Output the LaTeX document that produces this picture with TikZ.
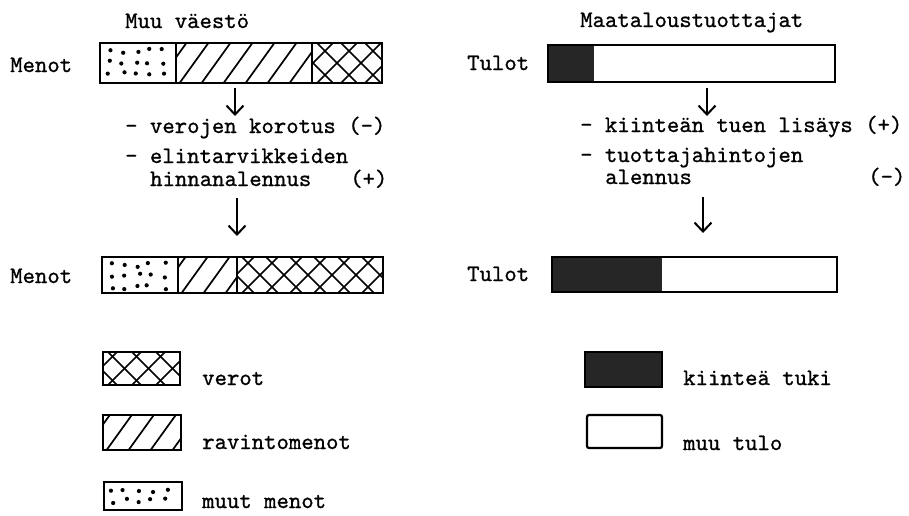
\documentclass[tikz,border=0pt]{standalone}
\usepackage{fontspec}
\newfontfamily\typew{lmmono10-regular.otf}[FakeBold=0.9]
\usetikzlibrary{arrows.meta,positioning}

\tikzset{
  box/.style={line width=2.2pt},
  hatch/.style={line width=1.7pt},
  lbl/.style={font=\typew\fontsize{23.6}{28}\selectfont, anchor=base west, inner sep=0pt},
  down/.style={line width=2pt, -{Straight Barb[length=9pt,width=17pt,line width=2pt]}}
}

% diagonal lines in a rectangle
\newcommand{\hatchbox}[4]{%
  \begin{scope}
    \clip (#1,#2) rectangle (#3,#4);
    \pgfmathtruncatemacro\nk{(#3-#1)/22+2}
    \foreach \k in {-2,...,\nk}
      \draw[hatch] ({#1+\k*22},{#4+5}) -- ++(36,-50);
  \end{scope}}

% cross hatching in a rectangle
\newcommand{\crossbox}[4]{%
  \begin{scope}
    \clip (#1,#2) rectangle (#3,#4);
    \pgfmathtruncatemacro\nk{(#3-#1)/24+2}
    \foreach \k in {-2,...,\nk} {
      \draw[hatch] ({#1+\k*24},{#4+5}) -- ++(50,-50);
      \draw[hatch] ({#1+\k*24},{#2-5}) -- ++(50,50);
    }
  \end{scope}}

% scattered dots in a rectangle
\newcommand{\dotbox}[4]{%
  \begin{scope}
    \clip (#1,#2) rectangle (#3,#4);
    \pgfmathtruncatemacro\ni{(#3-#1-6)/13}
    \pgfmathtruncatemacro\nj{(#4-#2-2)/11}
    \foreach \i in {1,...,\ni}
      \foreach \j in {1,...,\nj}
        \fill ({#1+\i*13-4+rand*3.5},{#2+\j*11-3+rand*2.5}) circle (2.1);
  \end{scope}}

\begin{document}
\begin{tikzpicture}[x=1pt,y=-1pt]
\pgfmathsetseed{11}
\useasboundingbox (0,0) rectangle (909,515);

% ---- Muu vaesto ----
\node[lbl] (muu) at (125,28) {Muu väestö};
\node[lbl] (menot1) at (10,72) {Menot};
\dotbox{100}{43}{176}{83}
\hatchbox{176}{43}{312}{83}
\crossbox{312}{43}{382}{83}
\draw[box] (100,43) rectangle (382,83);
\draw[hatch] (176,43) -- (176,83);
\draw[hatch] (312,43) -- (312,83);

\coordinate (l1s) at (235,88);
\coordinate (l1e) at (235,116);
\draw[down] (l1s) -- (l1e);

\node[lbl] (vero) at (125,133) {- verojen korotus (-)};
\node[lbl] (elin) at (125,163) {- elintarvikkeiden};
\node[lbl] (hinta) at (150,186) {hinnanalennus};
\node[lbl] (plus) at (350,186) {(+)};

\coordinate (l2s) at (237,198);
\coordinate (l2e) at (237,236);
\draw[down] (l2s) -- (l2e);

\node[lbl] (menot2) at (10,283) {Menot};
\dotbox{102}{257}{178}{293}
\hatchbox{178}{257}{237}{293}
\crossbox{237}{257}{383}{293}
\draw[box] (102,257) rectangle (383,293);
\draw[hatch] (178,257) -- (178,293);
\draw[hatch] (237,257) -- (237,293);

% ---- Maataloustuottajat ----
\node[lbl] (maat) at (580,27) {Maataloustuottajat};
\node[lbl] (tulot1) at (467,70) {Tulot};
\fill[black!85] (548,45) rectangle (594,82);
\draw[box] (548,45) rectangle (835,82);

\coordinate (r1s) at (707,88);
\coordinate (r1e) at (707,116);
\draw[down] (r1s) -- (r1e);

\node[lbl] (kiin) at (580,132) {- kiinteän tuen lisäys (+)};
\node[lbl] (tuott) at (580,162) {- tuottajahintojen};
\node[lbl] (alen) at (605,184) {alennus};
\node[lbl] (minus) at (868,184) {(-)};

\coordinate (r2s) at (703,197);
\coordinate (r2e) at (703,233);
\draw[down] (r2s) -- (r2e);

\node[lbl] (tulot2) at (467,281) {Tulot};
\fill[black!85] (552,257) rectangle (662,292);
\draw[box] (552,257) rectangle (837,292);

% ---- legend ----
\crossbox{103}{352}{180}{385}
\draw[box] (103,352) rectangle (180,385);
\node[lbl] (lverot) at (202,385) {verot};

\hatchbox{103}{415}{181}{450}
\draw[box] (103,415) rectangle (181,450);
\node[lbl] (lravi) at (202,449) {ravintomenot};

\dotbox{104}{482}{182}{510}
\draw[box] (104,482) rectangle (182,510);
\node[lbl] (lmuut) at (202,508) {muut menot};

\filldraw[box, fill=black!85] (585,352) rectangle (662,387);
\node[lbl] (ltuki) at (683,385) {kiinteä tuki};

\draw[box, rounded corners=2pt] (587,415) rectangle (662,448);
\node[lbl] (ltulo) at (683,450) {muu tulo};
\end{tikzpicture}
\end{document}
